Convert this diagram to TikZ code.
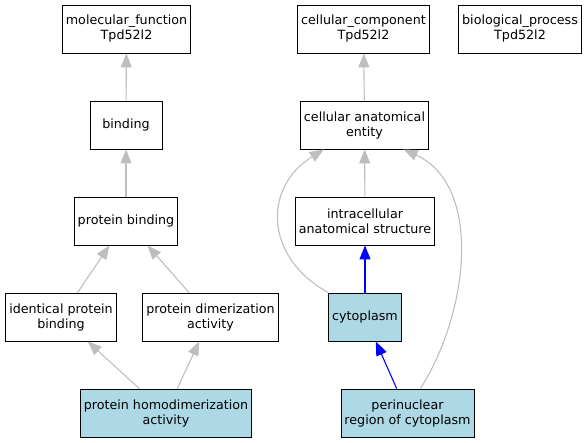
\documentclass[tikz,border=0pt]{standalone}
\usepackage{fontspec}
\setmainfont{DejaVu Sans}
\usetikzlibrary{arrows.meta}

\definecolor{edgegray}{RGB}{190,190,190}
\definecolor{termblue}{RGB}{173,216,230}

\tikzset{
  term/.style={draw=black, line width=0.9pt, align=center, inner xsep=3.5pt,
    minimum width=72pt, minimum height=48pt,
    font=\fontsize{12.7}{15}\selectfont},
  hit/.style={term, fill=termblue},
  isa/.style={draw=edgegray, line width=1.1pt, -{Triangle[length=14pt,width=11pt]}},
  partof/.style={draw=blue, line width=1.1pt, -{Triangle[length=14pt,width=11pt]}}
}

\begin{document}
\begin{tikzpicture}[x=1pt, y=-1pt]
    \useasboundingbox (0,0) rectangle (588,443);

    \node [term] (mf) at (126.5, 29) {molecular\_function\\Tpd52l2};
    \node [term] (bd) at (126, 125) {binding};
    \node [term] (pb) at (126, 221) {protein binding};
    \node [term] (ipb) at (61, 317) {identical protein\\binding};
    \node [term] (pda) at (210.5, 317) {protein dimerization\\activity};
    \node [hit] (phd) at (166, 413) {protein homodimerization\\activity};

    \node [term] (cc) at (363.5, 29) {cellular\_component\\Tpd52l2};
    \node [term] (bp) at (520, 29) {biological\_process\\Tpd52l2};
    \node [term] (cae) at (364.5, 125) {cellular anatomical\\entity};
    \node [term] (ias) at (365, 221) {intracellular\\anatomical structure};
    \node [hit] (cyto) at (365, 317) {cytoplasm};
    \node [hit] (peri) at (407.5, 413) {perinuclear\\region of cytoplasm};

    \draw [isa] (bd) to (mf);
    \draw [isa] (pb) to (bd);
    \draw [isa] (ipb) to (pb);
    \draw [isa] (pda) to (pb);
    \draw [isa] (phd) to (ipb);
    \draw [isa] (phd) to (pda);

    \draw [isa] (cae) to (cc);
    \draw [isa] (ias) to (cae);
    \draw [isa] (cyto.north west) .. controls (265,258) and (262,188) .. (cae.211);
    \draw [isa] (peri.62) .. controls (470,310) and (482,185) .. (cae.-32);
    \draw [partof] (cyto) to (ias);
    \draw [partof] (peri) to (cyto);

  \end{tikzpicture}
\end{document}
